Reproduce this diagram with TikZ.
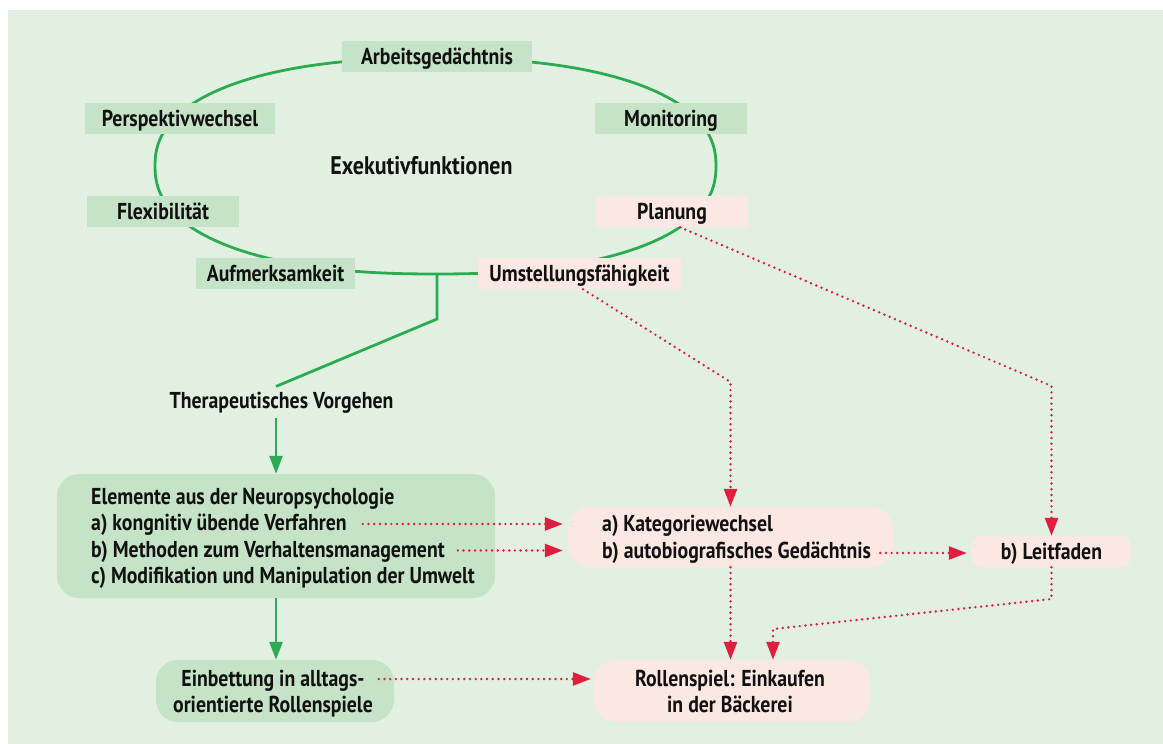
\documentclass[tikz,border=0pt]{standalone}
\usepackage{fontspec}
\setmainfont[FakeStretch=0.86]{PT Sans}
\usetikzlibrary{arrows.meta}
\definecolor{bgc}{RGB}{226,240,225}
\definecolor{gfill}{RGB}{197,227,199}
\definecolor{pfill}{RGB}{252,232,226}
\definecolor{gln}{RGB}{44,172,82}
\definecolor{rln}{RGB}{226,30,62}
\definecolor{txt}{RGB}{17,17,17}
\begin{document}
\begin{tikzpicture}[x=1pt,y=-1pt,
  font=\fontsize{23}{26.7}\selectfont\bfseries, text=txt,
  lab/.style={inner sep=0pt, text height=16pt, text depth=0pt, minimum height=31pt},
  gbox/.style={lab, fill=gfill},
  pbox/.style={lab, fill=pfill},
  gpanel/.style={fill=gfill, rounded corners=22pt, inner sep=0pt},
  ppanel/.style={fill=pfill, rounded corners=22pt, inner sep=0pt},
  ln/.style={inner sep=0pt, anchor=base west},
  lnc/.style={inner sep=0pt, anchor=base},
  gline/.style={draw=gln, line width=2.8pt},
  rline/.style={draw=rln, line width=2.7pt, line cap=round, dash pattern=on 0pt off 5.7pt},
  garr/.style={-{Triangle[length=18pt,width=13pt]}},
  rarr/.style={-{Triangle[length=18pt,width=13pt]}}]
\fill[white] (0,0) rectangle (1163,744);
\useasboundingbox (0,0) rectangle (1163,744);
\fill[bgc] (8,10) rectangle (1163,744);

% executive functions loop
\draw[gline] plot[domain=1:361, samples=181]
  ({435.5+280.5*cos(\x)*abs(cos(\x))^(-0.1304)}, {166+108*sin(\x)*abs(sin(\x))^(-0.1304)}) -- cycle;
\coordinate (eb) at (437,274);

\node[gbox, minimum width=190pt] (arb) at (437,56.5) {Arbeitsgedächtnis};
\node[gbox, minimum width=190pt] (per) at (180,118.5) {Perspektivwechsel};
\node[gbox, minimum width=152pt] (flex) at (163,211.5) {Flexibilität};
\node[gbox, minimum width=159pt] (auf) at (275.5,273.5) {Aufmerksamkeit};
\node[pbox, minimum width=203pt] (umst) at (579.5,273.5) {Umstellungsfähigkeit};
\node[gbox, minimum width=152pt] (mon) at (671,118.5) {Monitoring};
\node[pbox, minimum width=152pt] (plan) at (672,211.5) {Planung};
\node[font=\fontsize{25.5}{28}\selectfont\bfseries, anchor=base, inner sep=0pt] (exe) at (421.5,174) {Exekutivfunktionen};

\node[anchor=base, inner ysep=5pt, inner xsep=0pt] (thera) at (281.5,408) {Therapeutisches Vorgehen};

\node[gpanel, minimum width=438pt, minimum height=124pt] (neuro) at (276,536) {};
\node[ln] (n1) at (91,504) {Elemente aus der Neuropsychologie};
\node[ln] (n2) at (91,530.5) {a) kongnitiv übende Verfahren};
\node[ln] (n3) at (91,557) {b) Methoden zum Verhaltensmanagement};
\node[ln] (n4) at (91,583.5) {c) Modifikation und Manipulation der Umwelt};

\node[ppanel, minimum width=325pt, minimum height=60pt] (kat) at (730.5,537) {};
\node[ln] (k1) at (602,531) {a) Kategoriewechsel};
\node[ln] (k2) at (602,558) {b) autobiografisches Gedächtnis};

\node[pbox, rounded corners=9pt, minimum width=159pt] (leit) at (1051.5,551.5) {b) Leitfaden};

\node[gpanel, minimum width=238pt, minimum height=62pt] (ein) at (275,691) {};
\node[lnc] (e1) at (273,686) {Einbettung in alltags-};
\node[lnc] (e2) at (273,712.7) {orientierte Rollenspiele};

\node[ppanel, minimum width=276pt, minimum height=62pt] (rol) at (732,691) {};
\node[lnc] (r1) at (730,686) {Rollenspiel: Einkaufen};
\node[lnc] (r2) at (730,712.7) {in der Bäckerei};

% green connectors
\coordinate (g1) at (437,319);
\draw[gline] (eb) -- (g1) -- (neuro.north |- thera.north);
\draw[gline, garr] (neuro.north |- thera.south) -- (neuro.north);
\draw[gline, garr] (neuro.south) -- (neuro.south |- ein.north);

% red dotted connectors
\coordinate (s1) at ([xshift=16pt,yshift=6.5pt]n2.base east);
\draw[rline, rarr, shorten >=5pt] (s1) -- (s1 -| kat.west);
\coordinate (s2) at ([xshift=13pt,yshift=6.5pt]n3.base east);
\draw[rline, rarr, shorten >=5pt] (s2) -- (s2 -| kat.west);
\coordinate (s3) at ([xshift=9pt,yshift=5pt]k2.base east);
\draw[rline, rarr, shorten >=5pt] (s3) -- (s3 -| leit.west);
\coordinate (s4) at ([xshift=14pt,yshift=7pt]e1.base east);
\draw[rline, rarr, shorten >=3pt] (s4) -- (s4 -| rol.west);

\coordinate (u1) at (730.5,382);
\draw[rline, rarr] ([xshift=3.5pt]umst.south) -- (u1) -- (kat.north);
\coordinate (p1) at (1051.5,386);
\draw[rline, rarr] ([xshift=8pt]plan.south) -- (p1) -- (leit.north);
\draw[rline, rarr] (kat.south) -- (kat.south |- rol.north);
\coordinate (q1) at (1051.5,599);
\coordinate (q2) at (773,629);
\draw[rline, rarr] (leit.south) -- (q1) -- (q2) -- (q2 |- rol.north);
\end{tikzpicture}
\end{document}
